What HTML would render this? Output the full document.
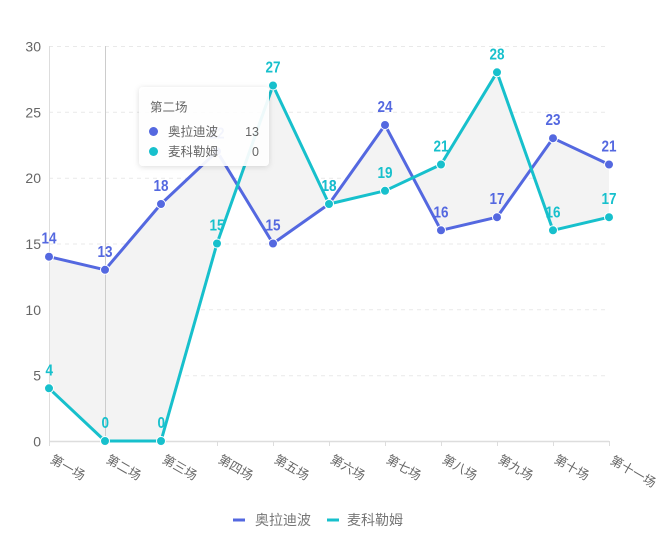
<!DOCTYPE html>
<html><head><meta charset="utf-8"><style>
html,body{margin:0;padding:0;background:#fff;}
svg{display:block;}
.yl{font-family:"Liberation Sans","Noto Sans CJK SC",sans-serif;font-size:14px;fill:#666;}
.xl{font-family:"Liberation Sans","Noto Sans CJK SC",sans-serif;font-size:12.5px;fill:#666;}
.lbA{font-family:"Liberation Sans Narrow","Liberation Sans",sans-serif;font-weight:bold;font-size:16px;fill:#5468e0;}
.lbB{font-family:"Liberation Sans Narrow","Liberation Sans",sans-serif;font-weight:bold;font-size:16px;fill:#17c0cc;}
.lg{font-family:"Liberation Sans","Noto Sans CJK SC",sans-serif;font-size:14px;fill:#777;}
.tt{font-family:"Liberation Sans","Noto Sans CJK SC",sans-serif;font-size:12.5px;fill:#666;}
</style></head><body>
<svg width="667" height="540" viewBox="0 0 667 540" xmlns="http://www.w3.org/2000/svg">
<defs>
<filter id="sh" x="-20%" y="-20%" width="140%" height="150%">
<feDropShadow dx="0" dy="1" stdDeviation="3" flood-color="#000" flood-opacity="0.15"/>
</filter>
</defs>
<!-- grid -->
<g stroke="#e9e9e9" stroke-width="1" stroke-dasharray="4,4">
<line x1="49" y1="46.5" x2="609" y2="46.5"/>
<line x1="49" y1="112.3" x2="609" y2="112.3"/>
<line x1="49" y1="178.2" x2="609" y2="178.2"/>
<line x1="49" y1="244" x2="609" y2="244"/>
<line x1="49" y1="309.8" x2="609" y2="309.8"/>
<line x1="49" y1="375.7" x2="609" y2="375.7"/>
</g>
<!-- y labels -->
<g class="yl" text-anchor="end">
<text x="41" y="51.5">30</text>
<text x="41" y="117.3">25</text>
<text x="41" y="183.2">20</text>
<text x="41" y="249">15</text>
<text x="41" y="314.8">10</text>
<text x="41" y="380.7">5</text>
<text x="41" y="446.5">0</text>
</g>
<!-- area between -->
<polygon fill="#f3f3f3" points="49,256.7 105,269.8 161,204 217,151.3 273,243.5 329,204 385,125 441,230.3 497,217.2 553,138.2 609,164.5 609,217.2 553,230.3 497,72.3 441,164.5 385,190.8 329,204 273,85.5 217,243.5 161,441 105,441 49,388.3"/>
<!-- y axis line -->
<line x1="49.5" y1="46" x2="49.5" y2="441" stroke="#ddd" stroke-width="1"/>
<!-- axis pointer -->
<line x1="105.5" y1="46" x2="105.5" y2="441" stroke="#ccc" stroke-width="1"/>
<!-- x axis -->
<line x1="49" y1="441.5" x2="609" y2="441.5" stroke="#ddd" stroke-width="1.5"/>
<g stroke="#ddd" stroke-width="1">
<line x1="49.5" y1="441" x2="49.5" y2="446"/>
<line x1="105.5" y1="441" x2="105.5" y2="446"/>
<line x1="161.5" y1="441" x2="161.5" y2="446"/>
<line x1="217.5" y1="441" x2="217.5" y2="446"/>
<line x1="273.5" y1="441" x2="273.5" y2="446"/>
<line x1="329.5" y1="441" x2="329.5" y2="446"/>
<line x1="385.5" y1="441" x2="385.5" y2="446"/>
<line x1="441.5" y1="441" x2="441.5" y2="446"/>
<line x1="497.5" y1="441" x2="497.5" y2="446"/>
<line x1="553.5" y1="441" x2="553.5" y2="446"/>
<line x1="609.5" y1="441" x2="609.5" y2="446"/>
</g>
<g class="xl" dominant-baseline="middle">
<text transform="translate(51,459) rotate(30)">第一场</text>
<text transform="translate(107,459) rotate(30)">第二场</text>
<text transform="translate(163,459) rotate(30)">第三场</text>
<text transform="translate(219,459) rotate(30)">第四场</text>
<text transform="translate(275,459) rotate(30)">第五场</text>
<text transform="translate(331,459) rotate(30)">第六场</text>
<text transform="translate(387,459) rotate(30)">第七场</text>
<text transform="translate(443,459) rotate(30)">第八场</text>
<text transform="translate(499,459) rotate(30)">第九场</text>
<text transform="translate(555,459) rotate(30)">第十场</text>
<text transform="translate(611,460) rotate(30)">第十一场</text>
</g>
<!-- series A -->
<polyline fill="none" stroke="#5468e0" stroke-width="3" stroke-linejoin="round" points="49,256.7 105,269.8 161,204 217,151.3 273,243.5 329,204 385,125 441,230.3 497,217.2 553,138.2 609,164.5"/>
<!-- series B -->
<polyline fill="none" stroke="#17c0cc" stroke-width="3" stroke-linejoin="round" points="49,388.3 105,441 161,441 217,243.5 273,85.5 329,204 385,190.8 441,164.5 497,72.3 553,230.3 609,217.2"/>
<g fill="#5468e0" stroke="#fff" stroke-width="1">
<circle cx="49" cy="256.7" r="4.5"/><circle cx="105" cy="269.8" r="4.5"/><circle cx="161" cy="204" r="4.5"/><circle cx="217" cy="151.3" r="4.5"/><circle cx="273" cy="243.5" r="4.5"/><circle cx="329" cy="204" r="4.5"/><circle cx="385" cy="125" r="4.5"/><circle cx="441" cy="230.3" r="4.5"/><circle cx="497" cy="217.2" r="4.5"/><circle cx="553" cy="138.2" r="4.5"/><circle cx="609" cy="164.5" r="4.5"/>
</g>
<g fill="#17c0cc" stroke="#fff" stroke-width="1">
<circle cx="49" cy="388.3" r="4.5"/><circle cx="105" cy="441" r="4.5"/><circle cx="161" cy="441" r="4.5"/><circle cx="217" cy="243.5" r="4.5"/><circle cx="273" cy="85.5" r="4.5"/><circle cx="329" cy="204" r="4.5"/><circle cx="385" cy="190.8" r="4.5"/><circle cx="441" cy="164.5" r="4.5"/><circle cx="497" cy="72.3" r="4.5"/><circle cx="553" cy="230.3" r="4.5"/><circle cx="609" cy="217.2" r="4.5"/>
</g>
<!-- labels A -->
<g class="lbA">
<text x="41.5" y="243.7" textLength="15" lengthAdjust="spacingAndGlyphs">14</text><text x="97.5" y="256.8" textLength="15" lengthAdjust="spacingAndGlyphs">13</text><text x="153.5" y="191" textLength="15" lengthAdjust="spacingAndGlyphs">18</text><text x="209.5" y="138.3" textLength="15" lengthAdjust="spacingAndGlyphs">22</text><text x="265.5" y="230.5" textLength="15" lengthAdjust="spacingAndGlyphs">15</text><text x="321.5" y="191" textLength="15" lengthAdjust="spacingAndGlyphs">18</text><text x="377.5" y="112" textLength="15" lengthAdjust="spacingAndGlyphs">24</text><text x="433.5" y="217.3" textLength="15" lengthAdjust="spacingAndGlyphs">16</text><text x="489.5" y="204.2" textLength="15" lengthAdjust="spacingAndGlyphs">17</text><text x="545.5" y="125.2" textLength="15" lengthAdjust="spacingAndGlyphs">23</text><text x="601.5" y="151.5" textLength="15" lengthAdjust="spacingAndGlyphs">21</text>
</g>
<g class="lbB">
<text x="45.5" y="375.3" textLength="7.5" lengthAdjust="spacingAndGlyphs">4</text><text x="101.5" y="428" textLength="7.5" lengthAdjust="spacingAndGlyphs">0</text><text x="157.5" y="428" textLength="7.5" lengthAdjust="spacingAndGlyphs">0</text><text x="209.5" y="230.5" textLength="15" lengthAdjust="spacingAndGlyphs">15</text><text x="265.5" y="72.5" textLength="15" lengthAdjust="spacingAndGlyphs">27</text><text x="321.5" y="191" textLength="15" lengthAdjust="spacingAndGlyphs">18</text><text x="377.5" y="177.8" textLength="15" lengthAdjust="spacingAndGlyphs">19</text><text x="433.5" y="151.5" textLength="15" lengthAdjust="spacingAndGlyphs">21</text><text x="489.5" y="59.3" textLength="15" lengthAdjust="spacingAndGlyphs">28</text><text x="545.5" y="217.3" textLength="15" lengthAdjust="spacingAndGlyphs">16</text><text x="601.5" y="204.2" textLength="15" lengthAdjust="spacingAndGlyphs">17</text>
</g>
<!-- tooltip -->
<rect x="139" y="87" width="130" height="79" rx="4" fill="#fff" fill-opacity="0.92" filter="url(#sh)"/>
<text class="tt" x="150" y="111.5">第二场</text>
<circle cx="153.5" cy="131.5" r="4.5" fill="#5468e0"/>
<text class="tt" x="168" y="136">奥拉迪波</text>
<text class="tt" x="259" y="136" text-anchor="end">13</text>
<circle cx="153.5" cy="151.5" r="4.5" fill="#17c0cc"/>
<text class="tt" x="168" y="156">麦科勒姆</text>
<text class="tt" x="259" y="156" text-anchor="end">0</text>
<!-- legend -->
<line x1="233" y1="520" x2="245" y2="520" stroke="#5468e0" stroke-width="3"/>
<text class="lg" x="255" y="525">奥拉迪波</text>
<line x1="327" y1="520" x2="339" y2="520" stroke="#17c0cc" stroke-width="3"/>
<text class="lg" x="347" y="525">麦科勒姆</text>
</svg>
</body></html>
